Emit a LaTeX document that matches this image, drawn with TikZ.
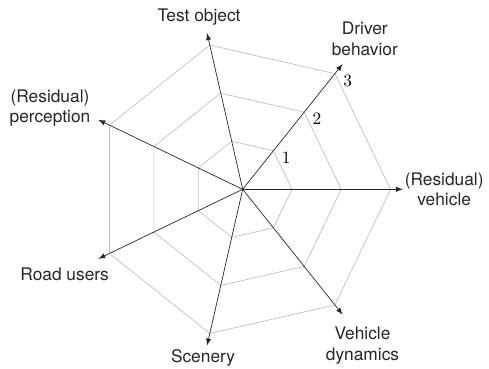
\documentclass[tikz,border=0pt]{standalone}
\usepackage{fontspec}
\setsansfont{TeX Gyre Heros}
\usetikzlibrary{arrows}
\tikzset{
  ring/.style={draw=black!25, line width=0.4pt},
  axis/.style={draw=black!85, line width=0.4pt, -latex},
  lab/.style={font=\sffamily, align=center, text=black!85},
}
\begin{document}
\begin{tikzpicture}
\useasboundingbox (-4.923,-3.645) rectangle (4.996,3.84);

\foreach \r in {1,2,3}
  \draw[ring] (0:\r) -- (360/7:\r) -- (720/7:\r) -- (1080/7:\r) -- (1440/7:\r) -- (1800/7:\r) -- (2160/7:\r) -- cycle;

\coordinate (c) at (0,0);
\foreach \i in {0,...,6} {
  \coordinate (t\i) at (\i*360/7:3.25);
  \draw[axis] (c) -- (t\i);
}

\foreach \r in {1,2,3}
  \node (n\r) at ([shift={(0.26,-0.14)}]360/7:\r) {$\r$};

\node[lab] (vehicle) at (4.087,0) {(Residual)\\vehicle};
\node[lab] (driver) at (2.477,3.059) {Driver\\behavior};
\node[lab] (object) at (-0.886,3.491) {Test object};
\node[lab] (perception) at (-3.909,1.649) {(Residual)\\perception};
\node[lab] (road) at (-3.611,-1.728) {Road users};
\node[lab] (scenery) at (-0.805,-3.414) {Scenery};
\node[lab] (dynamics) at (2.43,-3.168) {Vehicle\\dynamics};

\end{tikzpicture}
\end{document}
